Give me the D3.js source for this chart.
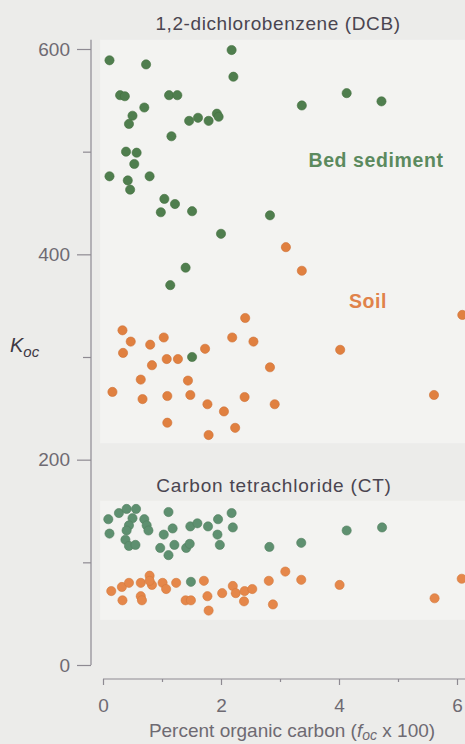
<!DOCTYPE html>
<html>
<head>
<meta charset="utf-8">
<script src="https://cdn.jsdelivr.net/npm/d3@7"></script>
<style>
  html, body { margin: 0; padding: 0; background: #ececea; }
  svg { display: block; }
  text { font-family: "Liberation Sans", Arial, sans-serif; }
</style>
</head>
<body>
<svg id="chart" width="465" height="744"></svg>
<script>
// Koc vs. percent organic carbon, [foc x 100, Koc] pairs
const dcbSediment = [
  [0.11,589],[0.73,585],[2.18,599],[2.21,573],[0.29,555],[0.37,554],[1.12,555],[1.26,555],
  [0.70,543],[0.50,535],[0.44,527],[1.16,515],[1.46,530],[1.61,533],[1.79,530],[1.93,537],
  [1.96,534],[3.37,545],[4.13,557],[4.72,549],[0.39,500],[0.57,499],[0.53,488],[0.11,476],
  [0.42,472],[0.46,463],[0.79,476],[1.04,454],[1.22,449],[0.98,441],[1.51,442],[2.83,438],
  [2.00,420],[1.40,387],[1.14,370],[1.51,300]
];
const dcbSoil = [
  [3.10,407],[3.37,384],[2.41,338],[0.33,326],[0.47,315],[0.80,312],[1.03,319],[2.19,319],
  [2.55,315],[0.34,304],[1.73,308],[1.08,298],[1.27,298],[0.83,292],[2.83,290],[0.64,278],
  [1.44,277],[0.16,266],[0.67,259],[1.09,262],[1.48,263],[2.40,261],[1.77,254],[2.91,254],
  [2.05,247],[1.09,236],[1.79,224],[2.24,231],[4.02,307],[5.61,263],[6.09,341]
];
const ctSediment = [
  [0.09,142],[0.11,128],[0.27,148],[0.40,152],[0.56,152],[0.50,143],[0.44,136],[0.40,131],
  [0.38,122],[0.44,116],[0.55,117],[0.70,142],[0.74,136],[0.77,131],[1.11,149],[1.03,127],
  [1.18,133],[0.97,114],[1.11,107],[1.21,117],[1.41,114],[1.47,118],[1.48,135],[1.60,138],
  [1.78,135],[1.95,142],[2.18,148],[2.20,134],[1.94,127],[1.98,117],[2.82,115],[3.36,119],
  [4.13,131],[4.73,134],[1.49,81]
];
const ctSoil = [
  [0.14,72],[0.33,63],[0.32,76],[0.44,80],[0.64,80],[0.64,67],[0.66,63],[0.79,87],
  [0.83,78],[0.79,82],[1.01,80],[1.07,74],[1.24,80],[1.40,63],[1.49,63],[1.71,82],
  [1.77,67],[1.79,53],[2.02,70],[2.20,77],[2.25,70],[2.40,72],[2.39,62],[2.53,74],
  [2.81,82],[2.88,59],[3.09,91],[3.36,83],[4.01,78],[5.62,65],[6.08,84]
];
const xMajorTicks = [0, 2, 4, 6];
const xMinorTicks = [1, 3, 5];
const yMajorTicks = [0, 200, 400, 600];
const yMinorTicks = [100, 300, 500];

const svg = d3.select("#chart");
const x = d3.scaleLinear().domain([0, 6]).range([103, 457]);
const y = d3.scaleLinear().domain([0, 600]).range([665, 49]);

const axisColor = "#8e8a92";
const labelColor = "#6e6a72";
const titleColor = "#4a4550";
const fontStack = "'Liberation Sans', Arial, sans-serif";

// light backing panels behind each chemical's group of points
svg.append("rect").attr("x", x(-0.05)).attr("y", y(609))
  .attr("width", 465 - x(-0.05)).attr("height", y(216) - y(609)).attr("fill", "#f3f3f1");
svg.append("rect").attr("x", x(-0.05)).attr("y", y(160))
  .attr("width", 465 - x(-0.05)).attr("height", y(44) - y(160)).attr("fill", "#f3f3f1");

// y axis
const yAxisG = svg.append("g").attr("transform", "translate(91,0)");
yAxisG.call(d3.axisLeft(y).tickValues(yMajorTicks).tickFormat(d3.format("d"))
    .tickSize(14).tickSizeOuter(0).tickPadding(7))
  .call(g => g.select(".domain").remove());
yAxisG.append("g").call(d3.axisLeft(y).tickValues(yMinorTicks).tickSize(8).tickFormat(""))
  .call(g => g.select(".domain").remove());
yAxisG.append("line").attr("x1", 0).attr("x2", 0).attr("y1", y(0)).attr("y2", y(609));
yAxisG.selectAll("line").attr("stroke", axisColor).attr("stroke-width", 1.2);
yAxisG.selectAll("text").attr("fill", labelColor).style("font-size", "19px")
  .style("font-family", fontStack);

// x axis
const xAxisG = svg.append("g").attr("transform", "translate(0,679)");
xAxisG.call(d3.axisBottom(x).tickValues(xMajorTicks).tickFormat(d3.format("d"))
    .tickSize(6).tickSizeOuter(0).tickPadding(14))
  .call(g => g.select(".domain").remove());
xAxisG.append("g").call(d3.axisBottom(x).tickValues(xMinorTicks).tickSize(3).tickFormat(""))
  .call(g => g.select(".domain").remove());
xAxisG.append("line").attr("x1", x(0)).attr("x2", 465).attr("y1", 0).attr("y2", 0);
xAxisG.selectAll("line").attr("stroke", axisColor).attr("stroke-width", 1.2);
xAxisG.selectAll("text").attr("fill", labelColor).style("font-size", "19px")
  .style("font-family", fontStack);

// point series
const series = [
  { data: dcbSediment, fill: "#4f7e4e", stroke: "#44703f" },
  { data: dcbSoil, fill: "#e08040", stroke: "#cf7035" },
  { data: ctSediment, fill: "#5e9070", stroke: "#527f60" },
  { data: ctSoil, fill: "#e5874a", stroke: "#d4783c" }
];
series.forEach(s => {
  svg.append("g").selectAll("circle").data(s.data).join("circle")
    .attr("cx", d => x(d[0])).attr("cy", d => y(d[1])).attr("r", 4.6)
    .attr("fill", s.fill).attr("stroke", s.stroke).attr("stroke-width", 0.6);
});

// titles and series labels
svg.append("text").attr("x", 278).attr("y", 30).attr("text-anchor", "middle")
  .attr("fill", titleColor).style("font-size", "19px").style("letter-spacing", "0.6px")
  .text("1,2-dichlorobenzene (DCB)");
svg.append("text").attr("x", 274).attr("y", 492).attr("text-anchor", "middle")
  .attr("fill", titleColor).style("font-size", "19px").style("letter-spacing", "0.8px")
  .text("Carbon tetrachloride (CT)");
svg.append("text").attr("x", 376).attr("y", 167).attr("text-anchor", "middle")
  .attr("fill", "#5b8a5e").style("font-size", "19.5px").style("font-weight", "bold")
  .style("letter-spacing", "0.6px").text("Bed sediment");
svg.append("text").attr("x", 368).attr("y", 308).attr("text-anchor", "middle")
  .attr("fill", "#e0824a").style("font-size", "19.5px").style("font-weight", "bold")
  .style("letter-spacing", "0.5px").text("Soil");

// y axis label: K with subscript oc
const kLabel = svg.append("text").attr("x", 10).attr("y", 352)
  .attr("fill", "#3e3944").style("font-size", "20px").style("font-style", "italic");
kLabel.append("tspan").text("K");
kLabel.append("tspan").attr("dy", 5).style("font-size", "15px").text("oc");

// x axis label
const xLabel = svg.append("text").attr("x", 292).attr("y", 737).attr("text-anchor", "middle")
  .attr("fill", labelColor).style("font-size", "19px");
xLabel.append("tspan").text("Percent organic carbon (");
xLabel.append("tspan").style("font-style", "italic").text("f");
xLabel.append("tspan").attr("dy", 3).style("font-size", "14px").style("font-style", "italic").text("oc");
xLabel.append("tspan").attr("dy", -3).text(" x 100)");
</script>
</body>
</html>
